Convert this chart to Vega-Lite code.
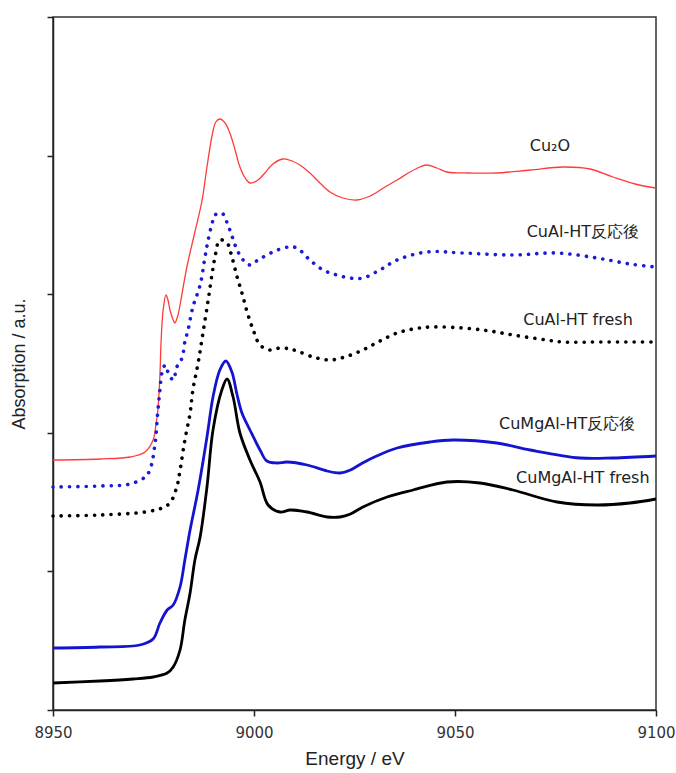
{
  "$schema": "https://vega.github.io/schema/vega-lite/v6.json",
  "width": 603,
  "height": 693,
  "autosize": "none",
  "padding": {"left": 53, "top": 17, "right": 20, "bottom": 63},
  "background": "white",
  "config": {
    "view": {"stroke": "#333333", "strokeWidth": 1.5},
    "axis": {"domainColor": "#222222", "domainWidth": 1.5, "tickColor": "#222222", "tickWidth": 1.5, "grid": false}
  },
  "datasets": {
    "spectra": [
      {"series": "Cu2O", "energy": 8950, "absorption": 250},
      {"series": "Cu2O", "energy": 8961.7, "absorption": 251},
      {"series": "Cu2O", "energy": 8969.2, "absorption": 253},
      {"series": "Cu2O", "energy": 8972.9, "absorption": 258},
      {"series": "Cu2O", "energy": 8974.9, "absorption": 270},
      {"series": "Cu2O", "energy": 8975.6, "absorption": 285},
      {"series": "Cu2O", "energy": 8976.1, "absorption": 300},
      {"series": "Cu2O", "energy": 8976.6, "absorption": 335},
      {"series": "Cu2O", "energy": 8976.9, "absorption": 370},
      {"series": "Cu2O", "energy": 8977.4, "absorption": 400},
      {"series": "Cu2O", "energy": 8978.1, "absorption": 415},
      {"series": "Cu2O", "energy": 8978.6, "absorption": 410},
      {"series": "Cu2O", "energy": 8979.1, "absorption": 400},
      {"series": "Cu2O", "energy": 8979.9, "absorption": 390},
      {"series": "Cu2O", "energy": 8980.3, "absorption": 387},
      {"series": "Cu2O", "energy": 8981.1, "absorption": 395},
      {"series": "Cu2O", "energy": 8981.6, "absorption": 405},
      {"series": "Cu2O", "energy": 8983.3, "absorption": 443},
      {"series": "Cu2O", "energy": 8985.3, "absorption": 478},
      {"series": "Cu2O", "energy": 8987.1, "absorption": 510},
      {"series": "Cu2O", "energy": 8988.3, "absorption": 543},
      {"series": "Cu2O", "energy": 8989.6, "absorption": 575},
      {"series": "Cu2O", "energy": 8990.5, "absorption": 588},
      {"series": "Cu2O", "energy": 8991.5, "absorption": 591},
      {"series": "Cu2O", "energy": 8992.8, "absorption": 587},
      {"series": "Cu2O", "energy": 8994.0, "absorption": 577},
      {"series": "Cu2O", "energy": 8995.3, "absorption": 560},
      {"series": "Cu2O", "energy": 8996.5, "absorption": 543},
      {"series": "Cu2O", "energy": 8997.8, "absorption": 532},
      {"series": "Cu2O", "energy": 8999.0, "absorption": 527},
      {"series": "Cu2O", "energy": 9001.0, "absorption": 530},
      {"series": "Cu2O", "energy": 9002.7, "absorption": 537},
      {"series": "Cu2O", "energy": 9004.7, "absorption": 546},
      {"series": "Cu2O", "energy": 9007.2, "absorption": 551},
      {"series": "Cu2O", "energy": 9009.5, "absorption": 549},
      {"series": "Cu2O", "energy": 9011.4, "absorption": 545},
      {"series": "Cu2O", "energy": 9013.9, "absorption": 537},
      {"series": "Cu2O", "energy": 9016.4, "absorption": 527},
      {"series": "Cu2O", "energy": 9018.9, "absorption": 518},
      {"series": "Cu2O", "energy": 9022.1, "absorption": 512},
      {"series": "Cu2O", "energy": 9025.6, "absorption": 510},
      {"series": "Cu2O", "energy": 9028.9, "absorption": 514},
      {"series": "Cu2O", "energy": 9032.6, "absorption": 523},
      {"series": "Cu2O", "energy": 9035.6, "absorption": 530},
      {"series": "Cu2O", "energy": 9038.8, "absorption": 538},
      {"series": "Cu2O", "energy": 9041.3, "absorption": 543},
      {"series": "Cu2O", "energy": 9043.0, "absorption": 545},
      {"series": "Cu2O", "energy": 9045.5, "absorption": 542},
      {"series": "Cu2O", "energy": 9048.0, "absorption": 538},
      {"series": "Cu2O", "energy": 9053.7, "absorption": 537},
      {"series": "Cu2O", "energy": 9060.4, "absorption": 537},
      {"series": "Cu2O", "energy": 9068.7, "absorption": 540},
      {"series": "Cu2O", "energy": 9076.9, "absorption": 543},
      {"series": "Cu2O", "energy": 9083.6, "absorption": 541},
      {"series": "Cu2O", "energy": 9089.3, "absorption": 533},
      {"series": "Cu2O", "energy": 9094.8, "absorption": 526},
      {"series": "Cu2O", "energy": 9100, "absorption": 522},

      {"series": "CuAl-HT used", "energy": 8950, "absorption": 223},
      {"series": "CuAl-HT used", "energy": 8961.7, "absorption": 224},
      {"series": "CuAl-HT used", "energy": 8969.2, "absorption": 226},
      {"series": "CuAl-HT used", "energy": 8972.9, "absorption": 233},
      {"series": "CuAl-HT used", "energy": 8974.1, "absorption": 240},
      {"series": "CuAl-HT used", "energy": 8975.4, "absorption": 267},
      {"series": "CuAl-HT used", "energy": 8976.1, "absorption": 300},
      {"series": "CuAl-HT used", "energy": 8976.6, "absorption": 320},
      {"series": "CuAl-HT used", "energy": 8977.1, "absorption": 337},
      {"series": "CuAl-HT used", "energy": 8977.9, "absorption": 345},
      {"series": "CuAl-HT used", "energy": 8978.6, "absorption": 338},
      {"series": "CuAl-HT used", "energy": 8979.9, "absorption": 330},
      {"series": "CuAl-HT used", "energy": 8980.8, "absorption": 343},
      {"series": "CuAl-HT used", "energy": 8982.1, "absorption": 352},
      {"series": "CuAl-HT used", "energy": 8982.8, "absorption": 368},
      {"series": "CuAl-HT used", "energy": 8983.6, "absorption": 380},
      {"series": "CuAl-HT used", "energy": 8984.8, "absorption": 403},
      {"series": "CuAl-HT used", "energy": 8986.6, "absorption": 425},
      {"series": "CuAl-HT used", "energy": 8987.8, "absorption": 453},
      {"series": "CuAl-HT used", "energy": 8988.6, "absorption": 470},
      {"series": "CuAl-HT used", "energy": 8989.6, "absorption": 487},
      {"series": "CuAl-HT used", "energy": 8990.3, "absorption": 495},
      {"series": "CuAl-HT used", "energy": 8992.0, "absorption": 497},
      {"series": "CuAl-HT used", "energy": 8993.0, "absorption": 490},
      {"series": "CuAl-HT used", "energy": 8994.0, "absorption": 480},
      {"series": "CuAl-HT used", "energy": 8995.8, "absorption": 460},
      {"series": "CuAl-HT used", "energy": 8997.3, "absorption": 450},
      {"series": "CuAl-HT used", "energy": 8999.0, "absorption": 445},
      {"series": "CuAl-HT used", "energy": 9001.0, "absorption": 450},
      {"series": "CuAl-HT used", "energy": 9004.7, "absorption": 458},
      {"series": "CuAl-HT used", "energy": 9008.5, "absorption": 463},
      {"series": "CuAl-HT used", "energy": 9010.7, "absorption": 462},
      {"series": "CuAl-HT used", "energy": 9013.9, "absorption": 450},
      {"series": "CuAl-HT used", "energy": 9017.2, "absorption": 440},
      {"series": "CuAl-HT used", "energy": 9020.6, "absorption": 435},
      {"series": "CuAl-HT used", "energy": 9023.9, "absorption": 432},
      {"series": "CuAl-HT used", "energy": 9027.1, "absorption": 432},
      {"series": "CuAl-HT used", "energy": 9031.3, "absorption": 440},
      {"series": "CuAl-HT used", "energy": 9035.6, "absorption": 450},
      {"series": "CuAl-HT used", "energy": 9043.0, "absorption": 458},
      {"series": "CuAl-HT used", "energy": 9052.0, "absorption": 457},
      {"series": "CuAl-HT used", "energy": 9064.4, "absorption": 455},
      {"series": "CuAl-HT used", "energy": 9075.4, "absorption": 457},
      {"series": "CuAl-HT used", "energy": 9085.3, "absorption": 452},
      {"series": "CuAl-HT used", "energy": 9093.5, "absorption": 446},
      {"series": "CuAl-HT used", "energy": 9100, "absorption": 443},

      {"series": "CuAl-HT fresh", "energy": 8950, "absorption": 194},
      {"series": "CuAl-HT fresh", "energy": 8961.7, "absorption": 195},
      {"series": "CuAl-HT fresh", "energy": 8972.9, "absorption": 198},
      {"series": "CuAl-HT fresh", "energy": 8977.1, "absorption": 202},
      {"series": "CuAl-HT fresh", "energy": 8979.1, "absorption": 207},
      {"series": "CuAl-HT fresh", "energy": 8980.8, "absorption": 223},
      {"series": "CuAl-HT fresh", "energy": 8981.6, "absorption": 240},
      {"series": "CuAl-HT fresh", "energy": 8982.8, "absorption": 270},
      {"series": "CuAl-HT fresh", "energy": 8984.1, "absorption": 297},
      {"series": "CuAl-HT fresh", "energy": 8984.8, "absorption": 320},
      {"series": "CuAl-HT fresh", "energy": 8986.1, "absorption": 347},
      {"series": "CuAl-HT fresh", "energy": 8987.3, "absorption": 377},
      {"series": "CuAl-HT fresh", "energy": 8988.6, "absorption": 410},
      {"series": "CuAl-HT fresh", "energy": 8989.6, "absorption": 437},
      {"series": "CuAl-HT fresh", "energy": 8990.3, "absorption": 453},
      {"series": "CuAl-HT fresh", "energy": 8991.5, "absorption": 470},
      {"series": "CuAl-HT fresh", "energy": 8993.3, "absorption": 467},
      {"series": "CuAl-HT fresh", "energy": 8994.5, "absorption": 453},
      {"series": "CuAl-HT fresh", "energy": 8995.8, "absorption": 433},
      {"series": "CuAl-HT fresh", "energy": 8997.0, "absorption": 417},
      {"series": "CuAl-HT fresh", "energy": 8998.3, "absorption": 398},
      {"series": "CuAl-HT fresh", "energy": 8999.8, "absorption": 380},
      {"series": "CuAl-HT fresh", "energy": 9001.5, "absorption": 365},
      {"series": "CuAl-HT fresh", "energy": 9004.0, "absorption": 360},
      {"series": "CuAl-HT fresh", "energy": 9006.5, "absorption": 362},
      {"series": "CuAl-HT fresh", "energy": 9009.0, "absorption": 361},
      {"series": "CuAl-HT fresh", "energy": 9010.7, "absorption": 359},
      {"series": "CuAl-HT fresh", "energy": 9014.7, "absorption": 353},
      {"series": "CuAl-HT fresh", "energy": 9018.9, "absorption": 350},
      {"series": "CuAl-HT fresh", "energy": 9022.6, "absorption": 353},
      {"series": "CuAl-HT fresh", "energy": 9027.1, "absorption": 360},
      {"series": "CuAl-HT fresh", "energy": 9031.3, "absorption": 369},
      {"series": "CuAl-HT fresh", "energy": 9035.6, "absorption": 377},
      {"series": "CuAl-HT fresh", "energy": 9039.6, "absorption": 381},
      {"series": "CuAl-HT fresh", "energy": 9043.8, "absorption": 383},
      {"series": "CuAl-HT fresh", "energy": 9052.0, "absorption": 382},
      {"series": "CuAl-HT fresh", "energy": 9058.7, "absorption": 379},
      {"series": "CuAl-HT fresh", "energy": 9064.4, "absorption": 375},
      {"series": "CuAl-HT fresh", "energy": 9071.1, "absorption": 371},
      {"series": "CuAl-HT fresh", "energy": 9076.9, "absorption": 368},
      {"series": "CuAl-HT fresh", "energy": 9086.1, "absorption": 368},
      {"series": "CuAl-HT fresh", "energy": 9100, "absorption": 368},

      {"series": "CuMgAl-HT used", "energy": 8950, "absorption": 62},
      {"series": "CuMgAl-HT used", "energy": 8961.7, "absorption": 63},
      {"series": "CuMgAl-HT used", "energy": 8971.6, "absorption": 65},
      {"series": "CuMgAl-HT used", "energy": 8974.9, "absorption": 71},
      {"series": "CuMgAl-HT used", "energy": 8976.6, "absorption": 87},
      {"series": "CuMgAl-HT used", "energy": 8978.4, "absorption": 100},
      {"series": "CuMgAl-HT used", "energy": 8979.9, "absorption": 105},
      {"series": "CuMgAl-HT used", "energy": 8981.6, "absorption": 123},
      {"series": "CuMgAl-HT used", "energy": 8982.8, "absorption": 150},
      {"series": "CuMgAl-HT used", "energy": 8984.1, "absorption": 180},
      {"series": "CuMgAl-HT used", "energy": 8986.1, "absorption": 220},
      {"series": "CuMgAl-HT used", "energy": 8988.3, "absorption": 273},
      {"series": "CuMgAl-HT used", "energy": 8989.8, "absorption": 313},
      {"series": "CuMgAl-HT used", "energy": 8991.5, "absorption": 340},
      {"series": "CuMgAl-HT used", "energy": 8993.0, "absorption": 349},
      {"series": "CuMgAl-HT used", "energy": 8994.5, "absorption": 338},
      {"series": "CuMgAl-HT used", "energy": 8995.8, "absorption": 315},
      {"series": "CuMgAl-HT used", "energy": 8997.0, "absorption": 297},
      {"series": "CuMgAl-HT used", "energy": 8999.0, "absorption": 280},
      {"series": "CuMgAl-HT used", "energy": 9001.5, "absorption": 260},
      {"series": "CuMgAl-HT used", "energy": 9003.2, "absorption": 249},
      {"series": "CuMgAl-HT used", "energy": 9005.7, "absorption": 247},
      {"series": "CuMgAl-HT used", "energy": 9008.2, "absorption": 248},
      {"series": "CuMgAl-HT used", "energy": 9013.2, "absorption": 245},
      {"series": "CuMgAl-HT used", "energy": 9018.2, "absorption": 239},
      {"series": "CuMgAl-HT used", "energy": 9021.4, "absorption": 237},
      {"series": "CuMgAl-HT used", "energy": 9024.0, "absorption": 240},
      {"series": "CuMgAl-HT used", "energy": 9027.0, "absorption": 247},
      {"series": "CuMgAl-HT used", "energy": 9030.5, "absorption": 254},
      {"series": "CuMgAl-HT used", "energy": 9035.6, "absorption": 262},
      {"series": "CuMgAl-HT used", "energy": 9043.8, "absorption": 268},
      {"series": "CuMgAl-HT used", "energy": 9049.5, "absorption": 270},
      {"series": "CuMgAl-HT used", "energy": 9060.4, "absorption": 267},
      {"series": "CuMgAl-HT used", "energy": 9068.7, "absorption": 260},
      {"series": "CuMgAl-HT used", "energy": 9081.1, "absorption": 252},
      {"series": "CuMgAl-HT used", "energy": 9089.3, "absorption": 252},
      {"series": "CuMgAl-HT used", "energy": 9100, "absorption": 254},

      {"series": "CuMgAl-HT fresh", "energy": 8950, "absorption": 27},
      {"series": "CuMgAl-HT fresh", "energy": 8961.7, "absorption": 29},
      {"series": "CuMgAl-HT fresh", "energy": 8969.9, "absorption": 31},
      {"series": "CuMgAl-HT fresh", "energy": 8974.9, "absorption": 33},
      {"series": "CuMgAl-HT fresh", "energy": 8978.4, "absorption": 37},
      {"series": "CuMgAl-HT fresh", "energy": 8979.9, "absorption": 43},
      {"series": "CuMgAl-HT fresh", "energy": 8981.6, "absorption": 60},
      {"series": "CuMgAl-HT fresh", "energy": 8982.8, "absorption": 90},
      {"series": "CuMgAl-HT fresh", "energy": 8984.1, "absorption": 117},
      {"series": "CuMgAl-HT fresh", "energy": 8985.3, "absorption": 150},
      {"series": "CuMgAl-HT fresh", "energy": 8986.6, "absorption": 173},
      {"series": "CuMgAl-HT fresh", "energy": 8988.3, "absorption": 223},
      {"series": "CuMgAl-HT fresh", "energy": 8989.8, "absorption": 280},
      {"series": "CuMgAl-HT fresh", "energy": 8992.0, "absorption": 320},
      {"series": "CuMgAl-HT fresh", "energy": 8993.3, "absorption": 331},
      {"series": "CuMgAl-HT fresh", "energy": 8994.8, "absorption": 313},
      {"series": "CuMgAl-HT fresh", "energy": 8996.5, "absorption": 277},
      {"series": "CuMgAl-HT fresh", "energy": 8999.0, "absorption": 250},
      {"series": "CuMgAl-HT fresh", "energy": 9001.5, "absorption": 228},
      {"series": "CuMgAl-HT fresh", "energy": 9003.5, "absorption": 205},
      {"series": "CuMgAl-HT fresh", "energy": 9006.5, "absorption": 198},
      {"series": "CuMgAl-HT fresh", "energy": 9009.0, "absorption": 200},
      {"series": "CuMgAl-HT fresh", "energy": 9013.2, "absorption": 198},
      {"series": "CuMgAl-HT fresh", "energy": 9018.2, "absorption": 193},
      {"series": "CuMgAl-HT fresh", "energy": 9021.4, "absorption": 193},
      {"series": "CuMgAl-HT fresh", "energy": 9024.0, "absorption": 196},
      {"series": "CuMgAl-HT fresh", "energy": 9027.1, "absorption": 203},
      {"series": "CuMgAl-HT fresh", "energy": 9033.1, "absorption": 213},
      {"series": "CuMgAl-HT fresh", "energy": 9039.6, "absorption": 220},
      {"series": "CuMgAl-HT fresh", "energy": 9048.0, "absorption": 228},
      {"series": "CuMgAl-HT fresh", "energy": 9056.2, "absorption": 227},
      {"series": "CuMgAl-HT fresh", "energy": 9064.4, "absorption": 220},
      {"series": "CuMgAl-HT fresh", "energy": 9075.4, "absorption": 208},
      {"series": "CuMgAl-HT fresh", "energy": 9085.3, "absorption": 205},
      {"series": "CuMgAl-HT fresh", "energy": 9093.5, "absorption": 207},
      {"series": "CuMgAl-HT fresh", "energy": 9100, "absorption": 211}
    ],
    "labels": [
      {"label": "Cu₂O", "energy": 9073.6, "absorption": 564},
      {"label": "CuAl-HT反応後", "energy": 9081.8, "absorption": 478},
      {"label": "CuAl-HT fresh", "energy": 9080.6, "absorption": 390},
      {"label": "CuMgAl-HT反応後", "energy": 9077.9, "absorption": 286},
      {"label": "CuMgAl-HT fresh", "energy": 9081.8, "absorption": 232}
    ]
  },
  "data": {"name": "spectra"},
  "encoding": {
    "x": {
      "field": "energy", "type": "quantitative",
      "scale": {"domain": [8950, 9100], "nice": false, "zero": false},
      "axis": {
        "values": [8950, 9000, 9050, 9100],
        "format": "d",
        "title": "Energy / eV",
        "titleFont": "Liberation Sans", "titleFontSize": 19, "titleFontWeight": "normal", "titleColor": "#222222",
        "titlePadding": 9,
        "labelFont": "DejaVu Sans", "labelFontSize": 15, "labelColor": "#333333", "labelPadding": 9,
        "tickSize": 6, "labelFlush": false
      }
    },
    "y": {
      "field": "absorption", "type": "quantitative",
      "scale": {"domain": [0, 693], "nice": false, "zero": false},
      "axis": {
        "values": [0, 138.6, 277.2, 415.8, 554.4, 693],
        "labels": false,
        "title": "Absorption / a.u.",
        "titleFont": "Liberation Sans", "titleFontSize": 18, "titleFontWeight": "normal", "titleColor": "#222222",
        "titlePadding": 18,
        "tickSize": 6
      }
    }
  },
  "layer": [
    {
      "transform": [{"filter": "datum.series === 'Cu2O'"}],
      "mark": {"type": "line", "color": "#ff3a3a", "strokeWidth": 1.3, "interpolate": "catmull-rom"}
    },
    {
      "transform": [{"filter": "datum.series === 'CuAl-HT used'"}],
      "mark": {"type": "line", "color": "#1a1ad8", "strokeWidth": 3.6, "strokeCap": "round", "strokeDash": [0.1, 8.2], "interpolate": "catmull-rom"}
    },
    {
      "transform": [{"filter": "datum.series === 'CuAl-HT fresh'"}],
      "mark": {"type": "line", "color": "#000000", "strokeWidth": 3.6, "strokeCap": "round", "strokeDash": [0.1, 8.2], "interpolate": "catmull-rom"}
    },
    {
      "transform": [{"filter": "datum.series === 'CuMgAl-HT used'"}],
      "mark": {"type": "line", "color": "#1414d0", "strokeWidth": 2.8, "interpolate": "catmull-rom"}
    },
    {
      "transform": [{"filter": "datum.series === 'CuMgAl-HT fresh'"}],
      "mark": {"type": "line", "color": "#000000", "strokeWidth": 2.8, "interpolate": "catmull-rom"}
    },
    {
      "data": {"name": "labels"},
      "mark": {"type": "text", "font": "DejaVu Sans", "fontSize": 16, "color": "#222222", "align": "center", "baseline": "middle"},
      "encoding": {"text": {"field": "label", "type": "nominal"}}
    }
  ]
}
